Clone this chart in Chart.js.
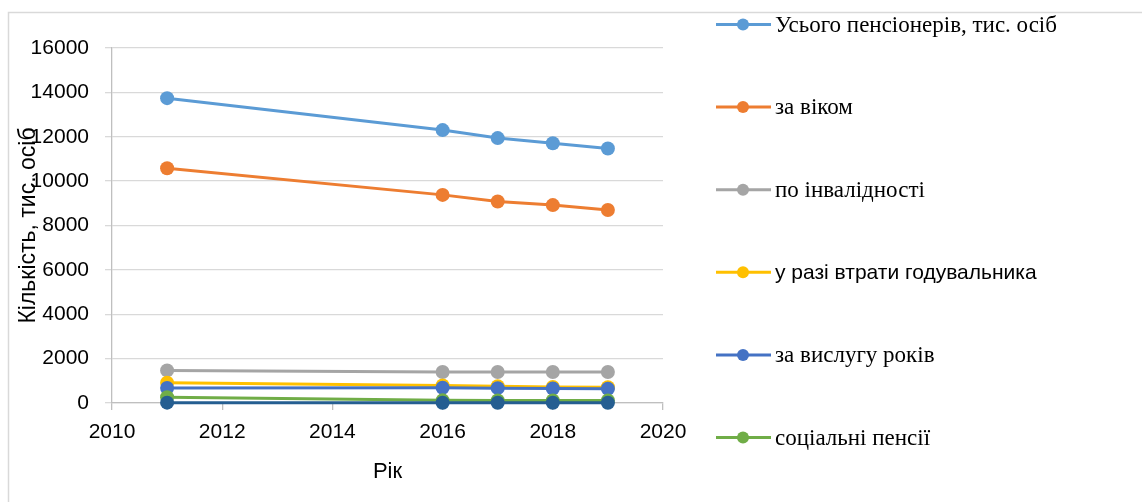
<!DOCTYPE html>
<html>
<head>
<meta charset="utf-8">
<script src="https://cdn.jsdelivr.net/npm/chart.js@4/dist/chart.umd.min.js"></script>
<style>
  html, body { margin: 0; padding: 0; background: #ffffff; }
  #wrap { width: 1142px; height: 502px; position: relative; }
</style>
</head>
<body>
<div id="wrap"><canvas id="c" width="1142" height="502"></canvas></div>
<script>
// Pensioners in Ukraine by pension type, thousand persons
const years = [2011, 2016, 2017, 2018, 2019];
const seriesNames = [
  'Усього пенсіонерів, тис. осіб',
  'за віком',
  'по інвалідності',
  'у разі втрати годувальника',
  'за вислугу років',
  'соціальні пенсії',
  'інші пенсії'
];
const total      = [13740, 12300, 11940, 11710, 11470];
const byAge      = [10580, 9380, 9080, 8920, 8700];
const disability = [1470, 1400, 1395, 1400, 1400];
const survivor   = [910, 790, 760, 720, 710];
const seniority  = [680, 690, 670, 655, 645];
const social     = [260, 120, 115, 110, 110];
const other      = [15, 12, 12, 12, 12];
const xTicks = [2010, 2012, 2014, 2016, 2018, 2020];
const yTicks = [0, 2000, 4000, 6000, 8000, 10000, 12000, 14000, 16000];

const seriesValues = [total, byAge, disability, survivor, seniority, social, other];
const colors = ['#5B9BD5', '#ED7D31', '#A5A5A5', '#FFC000', '#4472C4', '#70AD47', '#255E91'];
const legendFonts = [
  '23px "Liberation Serif"', '23px "Liberation Serif"', '23px "Liberation Serif"',
  '21px "Liberation Sans"', '23px "Liberation Serif"', '23px "Liberation Serif"', '23px "Liberation Serif"'
];

const datasets = seriesValues.map((vals, i) => ({
  label: seriesNames[i],
  data: years.map((y, k) => ({ x: y, y: vals[k] })),
  borderColor: colors[i],
  backgroundColor: colors[i],
  borderWidth: 3,
  pointRadius: 7,
  pointBorderWidth: 0,
  pointHoverRadius: 7,
  tension: 0,
  clip: false,
  order: -i
}));

// Frame lines around the chart area
const framePlugin = {
  id: 'frame',
  beforeDraw(chart) {
    const ctx = chart.ctx;
    ctx.save();
    ctx.strokeStyle = '#d9d9d9';
    ctx.lineWidth = 1.5;
    ctx.beginPath();
    ctx.moveTo(8.5, 502);
    ctx.lineTo(8.5, 12.5);
    ctx.lineTo(1142, 12.5);
    ctx.stroke();
    ctx.restore();
  }
};

// Legend on the right, one entry per series, widely spaced
const sideLegend = {
  id: 'sideLegend',
  afterDraw(chart) {
    const ctx = chart.ctx;
    const x0 = 716, x1 = 771, xm = 743, xt = 775;
    const top = 24.5, step = 82.6;
    ctx.save();
    chart.data.datasets.forEach((ds, i) => {
      const y = top + i * step;
      ctx.strokeStyle = ds.borderColor;
      ctx.lineWidth = 3;
      ctx.beginPath();
      ctx.moveTo(x0, y);
      ctx.lineTo(x1, y);
      ctx.stroke();
      ctx.fillStyle = ds.borderColor;
      ctx.beginPath();
      ctx.arc(xm, y, 6, 0, Math.PI * 2);
      ctx.fill();
      ctx.fillStyle = '#000000';
      ctx.font = legendFonts[i];
      ctx.textAlign = 'left';
      ctx.textBaseline = 'middle';
      ctx.fillText(ds.label, xt, y + 1);
    });
    ctx.restore();
  }
};

new Chart(document.getElementById('c'), {
  type: 'line',
  data: { datasets },
  plugins: [framePlugin, sideLegend],
  options: {
    responsive: false,
    animation: false,
    devicePixelRatio: 1,
    layout: { padding: { top: 48, right: 479, left: 0, bottom: 0 } },
    plugins: { legend: { display: false }, tooltip: { enabled: false } },
    scales: {
      x: {
        type: 'linear',
        min: xTicks[0],
        max: xTicks[xTicks.length - 1],
        afterFit(scale) { scale.height = 99; },
        afterBuildTicks(scale) { scale.ticks = xTicks.map(v => ({ value: v })); },
        ticks: {
          color: '#000000',
          font: { family: 'Liberation Sans', size: 21 },
          padding: 10,
          callback: v => String(v)
        },
        grid: { drawOnChartArea: false, drawTicks: true, tickLength: 7, color: '#bfbfbf', lineWidth: 1.3 },
        border: { display: true, color: '#bfbfbf', width: 1.3 },
        title: {
          display: true,
          text: 'Рік',
          color: '#000000',
          font: { family: 'Liberation Sans', size: 22 },
          padding: { top: 0, bottom: 17 }
        }
      },
      y: {
        min: yTicks[0],
        max: yTicks[yTicks.length - 1],
        afterFit(scale) { scale.width = 112; },
        afterBuildTicks(scale) { scale.ticks = yTicks.map(v => ({ value: v })); },
        ticks: {
          color: '#000000',
          font: { family: 'Liberation Sans', size: 21 },
          padding: 16,
          callback: v => String(v)
        },
        grid: { color: '#d9d9d9', lineWidth: 1.3, drawTicks: true, tickLength: 7 },
        border: { display: true, color: '#bfbfbf', width: 1.3 },
        title: {
          display: true,
          text: 'Кількість, тис. осіб',
          color: '#000000',
          font: { family: 'Liberation Sans', size: 23 },
          padding: { top: 15, bottom: 0 }
        }
      }
    }
  }
});
</script>
</body>
</html>
